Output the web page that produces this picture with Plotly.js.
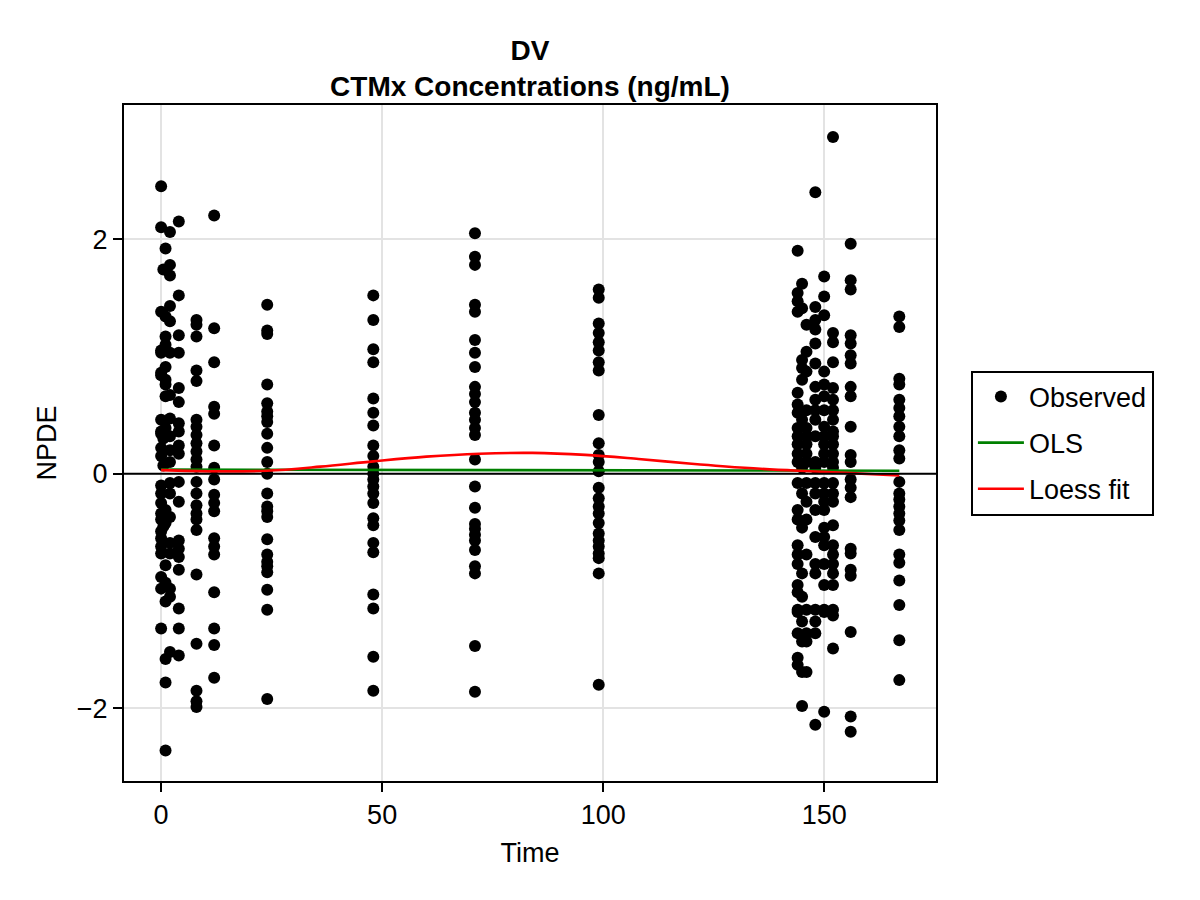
<!DOCTYPE html>
<html>
<head>
<meta charset="utf-8">
<script src="https://cdn.plot.ly/plotly-3.0.1.min.js"></script>
<style>html,body{margin:0;padding:0;background:#fff;}#chart{width:1200px;height:900px;}</style>
</head>
<body>
<div id="chart"></div>
<script>
// Observed NPDE values grouped by time
const t0   = [2.45, 2.10, 1.38, 1.05, 1.03, 0.86, 0.84, 0.46, 0.36, 0.34, 0.22, 0.15, -0.10, -0.17, -0.25, -0.34, -0.39, -0.49, -0.55, -0.62, -0.68, -0.88, -0.98, -1.32];
const t05  = [1.74, 0.30, 0.07, -0.45];
const t1   = [1.92, 1.34, 1.17, 1.10, 0.91, 0.80, 0.76, 0.66, 0.39, -0.31, -0.42, -0.78, -0.93, -1.09, -1.58, -1.78, -2.36];
const t2   = [2.06, 1.78, 1.69, 1.43, 1.30, 1.03, 0.67, 0.47, 0.32, 0.20, 0.10, -0.08, -0.17, -0.37, -0.59, -0.68, -0.98, -1.05, -1.52];
const t4   = [2.15, 1.52, 1.18, 1.03, 0.73, 0.61, 0.43, 0.36, 0.24, 0.17, -0.07, -0.24, -0.57, -0.64, -0.71, -0.82, -1.15, -1.32, -1.55];
const t8   = [1.31, 1.27, 1.17, 0.88, 0.79, 0.46, 0.40, 0.33, 0.26, 0.19, 0.12, 0.06, -0.07, -0.17, -0.27, -0.34, -0.39, -0.48, -0.86, -1.45, -1.85, -1.94, -1.99];
const t12  = [2.20, 1.24, 0.95, 0.57, 0.51, 0.24, 0.05, -0.05, -0.18, -0.25, -0.32, -0.55, -0.62, -0.69, -1.01, -1.32, -1.46, -1.74];
const t24  = [1.44, 1.22, 1.19, 0.76, 0.60, 0.53, 0.49, 0.44, 0.34, 0.22, 0.10, 0.00, -0.17, -0.28, -0.32, -0.37, -0.56, -0.69, -0.75, -0.79, -0.84, -0.99, -1.16, -1.92];
const t48  = [1.52, 1.31, 1.06, 0.95, 0.64, 0.52, 0.41, 0.24, 0.15, 0.06, 0.00, -0.05, -0.11, -0.17, -0.25, -0.38, -0.44, -0.59, -0.67, -1.03, -1.15, -1.56, -1.85];
const t71  = [2.05, 1.85, 1.78, 1.44, 1.38, 1.14, 1.03, 0.91, 0.74, 0.68, 0.61, 0.52, 0.46, 0.39, 0.33, 0.12, -0.11, -0.29, -0.43, -0.47, -0.52, -0.57, -0.65, -0.79, -0.85, -1.47, -1.86];
const t99  = [1.57, 1.50, 1.28, 1.20, 1.12, 1.05, 0.95, 0.88, 0.50, 0.26, 0.16, 0.10, 0.02, -0.12, -0.21, -0.28, -0.34, -0.42, -0.51, -0.57, -0.62, -0.68, -0.72, -0.85, -1.80];
const t144 = [1.90, 1.54, 1.47, 1.38, 0.69, 0.59, 0.52, 0.39, 0.32, 0.25, 0.17, 0.10, -0.08, -0.31, -0.39, -0.61, -0.69, -0.77, -0.95, -1.01, -1.16, -1.18, -1.36, -1.57, -1.63];
const t145 = [1.62, 1.41, 0.97, 0.90, 0.80, 0.46, 0.05, -0.17, -0.46, -0.85, -1.05, -1.26, -1.43, -1.69, -1.98];
const t146 = [1.27, 1.04, 0.87, 0.54, 0.39, 0.32, 0.25, 0.17, 0.10, -0.08, -0.24, -0.39, -0.69, -1.16, -1.36, -1.43, -1.69];
const t148 = [2.40, 1.42, 1.31, 1.23, 1.11, 0.94, 0.74, 0.63, 0.54, 0.46, 0.32, 0.10, 0.05, -0.08, -0.17, -0.31, -0.54, -0.77, -0.85, -1.16, -1.26, -1.36, -2.14];
const t150 = [1.68, 1.51, 1.35, 0.87, 0.76, 0.66, 0.54, 0.40, 0.32, 0.25, 0.17, 0.10, -0.08, -0.17, -0.24, -0.31, -0.46, -0.54, -0.61, -0.77, -0.95, -1.16, -1.18, -2.03];
const t152 = [2.87, 1.20, 1.12, 0.95, 0.73, 0.63, 0.54, 0.46, 0.36, 0.32, 0.25, 0.17, 0.10, 0.05, -0.08, -0.17, -0.24, -0.44, -0.61, -0.69, -0.77, -0.85, -0.95, -1.16, -1.21, -1.49];
const t156 = [1.96, 1.65, 1.57, 1.18, 1.11, 1.01, 0.94, 0.74, 0.66, 0.40, 0.16, 0.10, -0.05, -0.12, -0.20, -0.64, -0.68, -0.82, -0.87, -1.35, -2.07, -2.20];
const t167 = [1.34, 1.25, 0.81, 0.76, 0.63, 0.56, 0.49, 0.40, 0.32, 0.20, 0.13, -0.07, -0.17, -0.22, -0.28, -0.34, -0.40, -0.48, -0.69, -0.76, -0.91, -1.12, -1.42, -1.76];

const obsTimes = [0, 0.5, 1, 2, 4, 8, 12, 24, 48, 71, 99, 144, 145, 146, 148, 150, 152, 156, 167];
const obsGroups = [t0, t05, t1, t2, t4, t8, t12, t24, t48, t71, t99, t144, t145, t146, t148, t150, t152, t156, t167];

// OLS fit
const olsX = [0, 167];
const olsY = [0.035, 0.025];

// Loess fit
const loessX = [0, 12, 24, 36, 48, 60, 72, 84, 96, 108, 120, 132, 144, 156, 167];
const loessY = [0.03, 0.02, 0.025, 0.06, 0.105, 0.145, 0.17, 0.177, 0.16, 0.125, 0.085, 0.05, 0.025, 0.005, -0.015];

const xTicks = [0, 50, 100, 150];
const yTicks = [-2, 0, 2];

const obsX = [], obsY = [];
obsGroups.forEach((g, i) => g.forEach(v => { obsX.push(obsTimes[i]); obsY.push(v); }));

const FONT = "Liberation Sans, Arial, sans-serif";
const FS = 27;

const traces = [
  {x: obsX, y: obsY, type: 'scatter', mode: 'markers', name: 'Observed', legendgroup: 'a',
   marker: {color: '#000', size: 12}},
  {x: olsX, y: olsY, type: 'scatter', mode: 'lines', name: 'OLS', legendgroup: 'b',
   line: {color: '#008000', width: 2.6}},
  {x: loessX, y: loessY, type: 'scatter', mode: 'lines', name: 'Loess fit', legendgroup: 'c',
   line: {color: '#ff0000', width: 2.6, shape: 'spline'}}
];

const axisCommon = {
  showline: true, linecolor: '#000', linewidth: 2, mirror: true,
  showgrid: true, gridcolor: '#e3e3e3', gridwidth: 2,
  zeroline: false, ticks: 'outside', ticklen: 9, tickcolor: '#000', tickwidth: 2,
  tickfont: {family: FONT, size: FS, color: '#000'}
};

const layout = {
  width: 1200, height: 900,
  paper_bgcolor: '#fff', plot_bgcolor: '#fff',
  margin: {l: 124, r: 264, t: 105, b: 119},
  font: {family: FONT, color: '#000'},
  title: {text: '<b>DV</b><br><b>CTMx Concentrations (ng/mL)</b>', font: {family: FONT, size: 28, color: '#000'},
          xref: 'paper', x: 0.5, xanchor: 'center', yref: 'paper', y: 1, yanchor: 'bottom', pad: {b: 45}},
  xaxis: Object.assign({}, axisCommon, {range: [-8.4, 175.3], tickvals: xTicks, ticktext: xTicks.map(String),
          title: {text: 'Time', font: {family: FONT, size: FS, color: '#000'}, standoff: 14}}),
  yaxis: Object.assign({}, axisCommon, {range: [-2.62, 3.143], tickvals: yTicks,
          title: {text: 'NPDE', font: {family: FONT, size: FS, color: '#000'}, standoff: 12}}),
  showlegend: true,
  legend: {x: 1.043, xanchor: 'left', y: 0.5, yanchor: 'middle', bordercolor: '#000', borderwidth: 2,
           bgcolor: '#fff', font: {family: FONT, size: FS, color: '#000'}, tracegroupgap: 8, itemwidth: 46},
  shapes: [{type: 'line', xref: 'paper', x0: 0, x1: 1, yref: 'y', y0: 0, y1: 0, line: {color: '#000', width: 2}, layer: 'above'}]
};

Plotly.newPlot('chart', traces, layout, {displayModeBar: false, staticPlot: true});
</script>
</body>
</html>
